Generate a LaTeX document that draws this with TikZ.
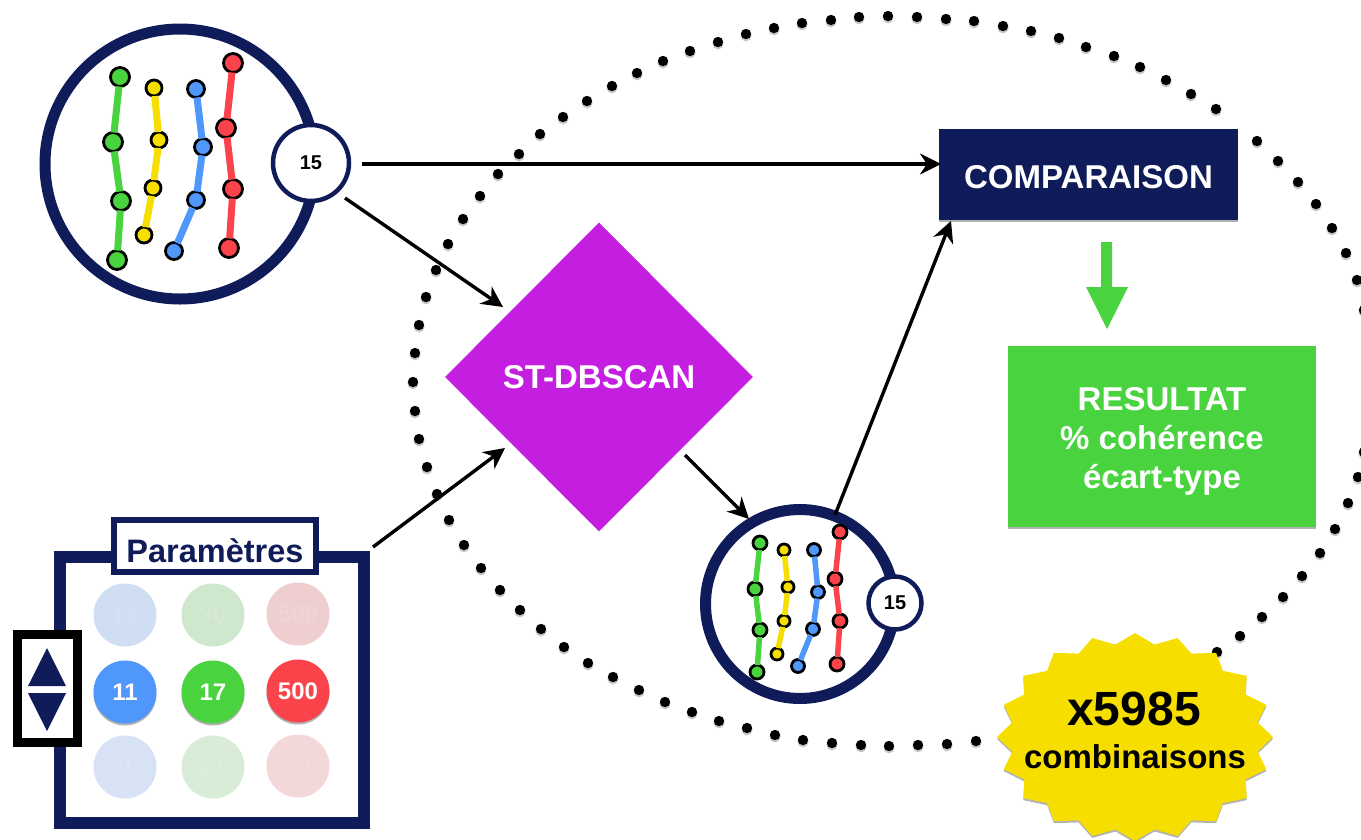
\documentclass[tikz,border=0pt]{standalone}
\usepackage{fontspec}
\setmainfont{Liberation Sans}
\usetikzlibrary{arrows.meta,shapes.geometric,shadows,calc}
\definecolor{navy}{HTML}{101C5A}
\definecolor{cgreen}{HTML}{49D33F}
\definecolor{cyellow}{HTML}{F5DE00}
\definecolor{cblue}{HTML}{4F97FB}
\definecolor{cred}{HTML}{FB434C}
\definecolor{cviolet}{HTML}{C41FE0}
\newcommand\fs[1]{\fontsize{#1}{#1}\selectfont\bfseries}
\tikzset{
  arrowline/.style={black,line width=3.4pt,-{Stealth[length=21pt,width=21pt]}},
  dotnode/.style={circle,draw=black,line width=2.8pt,inner sep=0pt,outer sep=0pt},
  ring/.style={circle,draw=navy,fill=white,inner sep=0pt,outer sep=0pt},
  softshadow/.style={drop shadow={shadow xshift=0pt,shadow yshift=-2pt,opacity=.3,fill=black}},
  param/.style={circle,minimum size=63pt,inner sep=0pt,text=white,font=\fs{24}},
  faded/.style={circle,minimum size=63pt,inner sep=0pt,font=\fs{24}},
  box/.style={rectangle,inner sep=0pt,outer sep=0pt,anchor=north west,softshadow},
  label/.style={anchor=base,inner sep=0pt},
}
% prefix, colour, diameter, line width, four positions
\newcommand\chain[8]{%
  \node[dotnode,fill=#2,minimum size=#3pt] (#1a) at (#5) {};
  \node[dotnode,fill=#2,minimum size=#3pt] (#1b) at (#6) {};
  \node[dotnode,fill=#2,minimum size=#3pt] (#1c) at (#7) {};
  \node[dotnode,fill=#2,minimum size=#3pt] (#1d) at (#8) {};
  \draw[#2,line width=#4pt] (#1a) -- (#1b) -- (#1c) -- (#1d);
}
\begin{document}
\begin{tikzpicture}[x=1pt,y=-1pt]
\useasboundingbox (0,0) rectangle (1361,839);
\fill[white] (0,0) rectangle (1361,839);
\begin{scope}
\clip (0,0) rectangle (1361,839);
\foreach \px/\py in {
  519/154,540/134,563/117,587/101,612/86,637/73,663/61,690/51,718/42,
  746/34,774/28,802/23,831/20,859/17,888/16,917/17,946/19,974/21,1003/26,
  1031/31,1059/38,1086/47,1114/56,1140/67,1166/80,1191/94,1216/109,
  1257/141,1278/161,1298/182,1316/204,1332/228,1346/253,1357/280,1364/310,
  1364/452,1358/477,1348/503,1335/529,1320/553,1302/576,1283/597,1262/617,
  1240/636,1217/652,
  976/741,947/744,918/745,889/746,861/745,832/743,803/740,775/735,747/728,
  719/721,692/712,665/702,639/690,613/677,588/663,564/647,541/629,520/610,
  500/590,481/568,464/545,449/520,437/494,427/467,419/439,415/411,413/382,
  415/353,419/325,426/297,436/270,448/244,463/219,480/196,498/174}
{
  \fill[black,opacity=.22] (\px,\py+1.8) circle[radius=5.6];
  \fill[black] (\px,\py) circle[radius=5.2];
}
\end{scope}

% large cluster
\node[ring,line width=11pt,minimum size=270pt] (bigring) at (180,164) {};
\chain{g}{cgreen}{19}{7}{120,77}{113,142}{121,201}{117,260}
\chain{y}{cyellow}{16}{7}{154,88}{159,140}{153,188}{144,235}
\chain{b}{cblue}{17}{7}{196,89}{203,147}{196,200}{174,251}
\chain{r}{cred}{19}{7}{233,63}{226,128}{233,189}{229,248}
\node[ring,line width=4.5pt,minimum size=76pt,font=\fs{20},text=black] (badgeA) at (311,163) {15};

% small cluster
\node[ring,line width=11pt,minimum size=189pt] (smallring) at (800,604) {};
\chain{sg}{cgreen}{14}{5.5}{760,543}{755,589}{760,630}{757,672}
\chain{sy}{cyellow}{12}{5.5}{784,550}{788,587}{784,621}{777,654}
\chain{sb}{cblue}{13}{5.5}{814,550}{818,592}{813,629}{798,666}
\chain{sr}{cred}{14}{5.5}{840,532}{835,579}{840,621}{837,664}
\node[ring,line width=4.5pt,minimum size=53pt,font=\fs{20},text=black] (badgeB) at (895,603) {15};

% main shapes
\node[diamond,fill=cviolet,minimum width=308pt,minimum height=309pt,inner sep=0pt,text=white,font=\fs{33}] (dbscan) at (599,377) {ST-DBSCAN};
\node[box,fill=navy,minimum width=299pt,minimum height=91pt] (comp) at (939,129) {};
\node[label,text=white,font=\fs{33}] (comptext) at (1088.5,188) {COMPARAISON};
\node[box,fill=cgreen,minimum width=308pt,minimum height=181pt] (result) at (1008,346) {};
\node[label,text=white,font=\fs{33}] (resA) at (1162,410) {RESULTAT};
\node[label,text=white,font=\fs{33}] (resB) at (1162,449) {\% cohérence};
\node[label,text=white,font=\fs{33}] (resC) at (1162,488) {écart-type};
\fill[cgreen] (1101,242) -- (1112,242) -- (1112,287) -- (1128,287) -- (1107,329) -- (1086,287) -- (1101,287) -- cycle;

% parameters
\node[box,draw=navy,fill=white,line width=12pt,minimum width=304pt,minimum height=266pt] (parbox) at (60,557) {};
\node[draw=navy,fill=white,line width=6.5pt,minimum width=202pt,minimum height=52pt,inner sep=0pt] (partitle) at (215,546) {};
\node[label,text=navy,font=\fs{32.5}] (partext) at (215,562) {Paramètres};

\node[faded,fill=cblue!70!gray!30,text=cblue!70!gray!27] (p1) at (125,615) {13};
\node[faded,fill=cgreen!60!gray!30,text=cgreen!60!gray!27] (p2) at (213,615) {30};
\node[faded,fill=cred!60!gray!30,text=cred!60!gray!27] (p3) at (298,614) {500};
\node[param,fill=cblue,softshadow] (p4) at (125,692) {11};
\node[param,fill=cgreen,softshadow] (p5) at (213,692) {17};
\node[param,fill=cred,softshadow] (p6) at (298,691) {500};
\node[faded,fill=cblue!70!gray!25,text=cblue!70!gray!23] (p7) at (125,767) {9};
\node[faded,fill=cgreen!60!gray!24,text=cgreen!60!gray!22] (p8) at (213,767) {21};
\node[faded,fill=cred!60!gray!24,text=cred!60!gray!22] (p9) at (298,766) {500};

\node[box,draw=black,fill=white,line width=9pt,minimum width=60pt,minimum height=108pt] (updown) at (17.5,634.5) {};
\fill[navy] (47,648) -- (66,686) -- (28,686) -- cycle;
\fill[navy] (47,731) -- (66,693) -- (28,693) -- cycle;

% burst
\fill[black,opacity=.3,shift={(0,2)}] plot[samples at={0,9,...,351},variable=\a]
  ({1135+138*(mod(\a,18)==0?1:0.9)*cos(\a)},{737+104*(mod(\a,18)==0?1:0.9)*sin(\a)}) -- cycle;
\fill[cyellow] plot[samples at={0,9,...,351},variable=\a]
  ({1135+138*(mod(\a,18)==0?1:0.9)*cos(\a)},{737+104*(mod(\a,18)==0?1:0.9)*sin(\a)}) -- cycle;
\node[label,text=black,font=\fs{48}] (burstA) at (1134,725) {x5985};
\node[label,text=black,font=\fs{33}] (burstB) at (1135,768) {combinaisons};

% connectors
\draw[arrowline] ($(badgeA)+(51,1)$) -- ($(comp.north west)+(2,35)$);
\draw[arrowline] ($(badgeA)+(34,35)$) -- ($(dbscan)+(-96,-70)$);
\draw[arrowline] ($(parbox.north east)+(9,-10)$) -- ($(dbscan)+(-94,71)$);
\draw[arrowline] ($(dbscan)+(86,78)$) -- ($(smallring)+(-51,-85)$);
\draw[arrowline] ($(smallring)+(35,-89)$) -- ($(comp.south west)+(12,1)$);
\end{tikzpicture}
\end{document}
